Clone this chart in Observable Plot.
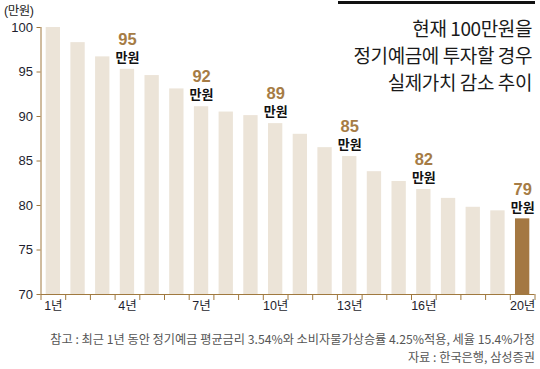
<!DOCTYPE html>
<html><head><meta charset="utf-8">
<script src="https://cdn.jsdelivr.net/npm/d3@7"></script>
<script src="https://cdn.jsdelivr.net/npm/@observablehq/plot@0.6"></script>
<style>
body{margin:0;background:#fff;}
#wrap{position:relative;width:540px;height:369px;overflow:hidden;font-family:"Liberation Sans","Noto Sans CJK KR",sans-serif;}
#bar{position:absolute;left:338px;top:1px;width:197px;height:3px;background:#111;}
#title{position:absolute;right:8px;top:14px;text-align:right;font-family:"Noto Sans CJK KR",sans-serif;font-size:19px;line-height:27px;color:#1a1a1a;letter-spacing:-0.4px;}
#unit{position:absolute;left:4px;top:0px;font-size:12.5px;color:#222;font-family:"Liberation Sans","Noto Sans CJK KR",sans-serif;letter-spacing:-0.5px;}
#note{position:absolute;right:5px;top:330px;text-align:right;font-size:12.2px;line-height:18px;color:#555;font-family:"Noto Sans CJK KR",sans-serif;letter-spacing:0px;}
#chart{position:absolute;left:0;top:0;}
</style></head>
<body>
<div id="wrap">
<div id="chart"></div>
<div id="bar"></div>
<div id="unit">(만원)</div>
<div id="title">현재 100만원을<br>정기예금에 투자할 경우<br>실제가치 감소 추이</div>
<div id="note">참고 : 최근 1년 동안 정기예금 평균금리 3.54%와 소비자물가상승률 4.25%적용, 세율 15.4%가정<br>자료 : 한국은행, 삼성증권</div>
</div>
<script>
const years = d3.range(1, 21);
const values = [100, 98.3, 96.7, 95.3, 94.6, 93.1, 91.1, 90.5, 90.1, 89.2, 88.0, 86.5, 85.5, 83.8, 82.7, 81.8, 80.8, 79.8, 79.4, 78.5];
const labelYears = [4, 7, 10, 13, 16, 20];
const labelTexts = ["95", "92", "89", "85", "82", "79"];
const xTickLabels = [1, 4, 7, 10, 13, 16, 20];
const yTicks = [70, 75, 80, 85, 90, 95, 100];

const data = years.map((y, i) => ({year: y, value: values[i]}));
const labels = labelYears.map((y, i) => ({year: y, value: values[y - 1], text: labelTexts[i]}));
const half = 0.29;
const axisColor = "#a0793f";
const textColor = "#1e1e2e";

const chart = Plot.plot({
  width: 540,
  height: 369,
  marginLeft: 40.5,
  marginRight: 5.5,
  marginTop: 27,
  marginBottom: 75,
  style: {fontFamily: "'Liberation Sans','Noto Sans CJK KR',sans-serif", fontSize: "12.5px", background: "transparent"},
  x: {domain: [0.5, 20.5]},
  y: {domain: [70, 100]},
  marks: [
    Plot.rectY(data, {x1: d => d.year - half, x2: d => d.year + half, y1: 70, y2: "value",
      fill: d => d.year === 20 ? "#a47842" : "#ece4d8"}),
    Plot.axisY({ticks: yTicks, tickSize: 4, tickPadding: 4, stroke: axisColor, color: textColor, label: null, fontSize: 13}),
    Plot.axisX({ticks: d3.range(0.5, 21, 1), tickSize: 6, tickFormat: () => "", stroke: axisColor, label: null}),
    Plot.axisX({ticks: xTickLabels, tickSize: 0, tickPadding: 7, tickFormat: d => d + "년", color: textColor, label: null, fontSize: 12.5}),
    Plot.ruleY([70], {stroke: axisColor}),
    Plot.ruleX([0.5], {y1: 70, y2: 100, stroke: axisColor}),
    Plot.text(labels, {x: "year", y: "value", text: "text", dy: -29.5, fill: "#a67c45", fontWeight: "bold", fontSize: 16.5}),
    Plot.text(labels, {x: "year", y: "value", text: () => "만원", dy: -11.5, fill: "#111", fontWeight: "bold", fontSize: 13,
      fontFamily: "'Noto Sans CJK KR',sans-serif"})
  ]
});
document.getElementById("chart").appendChild(chart);
</script>
</body></html>
